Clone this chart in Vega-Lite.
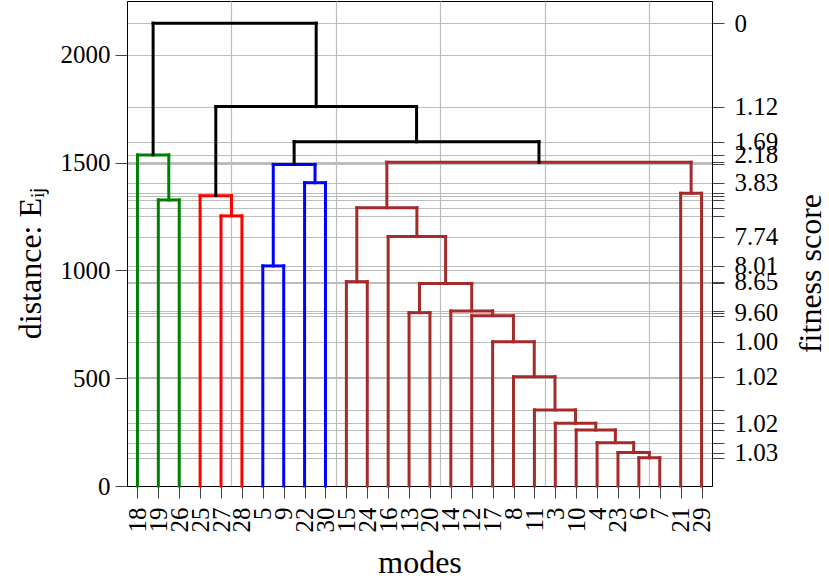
{
  "$schema": "https://vega.github.io/schema/vega-lite/v6.json",
  "width": 585,
  "height": 485,
  "autosize": {"type": "none"},
  "padding": {"left": 127, "top": 1, "right": 117, "bottom": 95},
  "config": {
    "view": {"stroke": "black", "strokeWidth": 1},
    "font": "Liberation Serif",
    "axis": {
      "labelFont": "Liberation Serif",
      "titleFont": "Liberation Serif",
      "labelFontSize": 25,
      "titleFontSize": 32,
      "titleFontWeight": "normal",
      "labelColor": "black",
      "titleColor": "black",
      "domainColor": "black",
      "tickColor": "#444444",
      "gridColor": "#bdbdbd",
      "gridWidth": 1.2,
      "gridOpacity": 1,
      "labelOverlap": false,
      "labelFlush": false,
      "tickSize": 12
    }
  },
  "data": {
    "values": [
      {"xl": 2, "yl": 0, "xr": 3, "yr": 0, "h": 1327, "c": "g"},
      {"xl": 1, "yl": 0, "xr": 2.5, "yr": 1327, "h": 1536, "c": "g"},
      {"xl": 5, "yl": 0, "xr": 6, "yr": 0, "h": 1253, "c": "r"},
      {"xl": 4, "yl": 0, "xr": 5.5, "yr": 1253, "h": 1347, "c": "r"},
      {"xl": 7, "yl": 0, "xr": 8, "yr": 0, "h": 1021, "c": "b"},
      {"xl": 9, "yl": 0, "xr": 10, "yr": 0, "h": 1407, "c": "b"},
      {"xl": 7.5, "yl": 1021, "xr": 9.5, "yr": 1407, "h": 1492, "c": "b"},
      {"xl": 25, "yl": 0, "xr": 26, "yr": 0, "h": 131, "c": "br"},
      {"xl": 24, "yl": 0, "xr": 25.5, "yr": 131, "h": 155, "c": "br"},
      {"xl": 23, "yl": 0, "xr": 24.75, "yr": 155, "h": 201, "c": "br"},
      {"xl": 22, "yl": 0, "xr": 23.875, "yr": 201, "h": 260, "c": "br"},
      {"xl": 21, "yl": 0, "xr": 22.9375, "yr": 260, "h": 291, "c": "br"},
      {"xl": 20, "yl": 0, "xr": 21.96875, "yr": 291, "h": 353, "c": "br"},
      {"xl": 19, "yl": 0, "xr": 20.984375, "yr": 353, "h": 507, "c": "br"},
      {"xl": 18, "yl": 0, "xr": 19.9921875, "yr": 507, "h": 669, "c": "br"},
      {"xl": 17, "yl": 0, "xr": 18.99609375, "yr": 669, "h": 790, "c": "br"},
      {"xl": 16, "yl": 0, "xr": 17.998046875, "yr": 790, "h": 812, "c": "br"},
      {"xl": 14, "yl": 0, "xr": 15, "yr": 0, "h": 804, "c": "br"},
      {"xl": 14.5, "yl": 804, "xr": 16.9990234, "yr": 812, "h": 940, "c": "br"},
      {"xl": 13, "yl": 0, "xr": 15.7495117, "yr": 940, "h": 1157, "c": "br"},
      {"xl": 11, "yl": 0, "xr": 12, "yr": 0, "h": 948, "c": "br"},
      {"xl": 11.5, "yl": 948, "xr": 14.3747559, "yr": 1157, "h": 1291, "c": "br"},
      {"xl": 27, "yl": 0, "xr": 28, "yr": 0, "h": 1358, "c": "br"},
      {"xl": 12.937378, "yl": 1291, "xr": 27.5, "yr": 1358, "h": 1502, "c": "br"},
      {"xl": 8.5, "yl": 1492, "xr": 20.218689, "yr": 1502, "h": 1597, "c": "k"},
      {"xl": 4.75, "yl": 1347, "xr": 14.3593445, "yr": 1597, "h": 1760, "c": "k"},
      {"xl": 1.75, "yl": 1536, "xr": 9.5546722, "yr": 1760, "h": 2147, "c": "k"}
    ]
  },
  "layer": [
    {
      "mark": {"type": "rule", "strokeWidth": 3, "strokeCap": "square"},
      "encoding": {
        "x": {
          "field": "xl", "type": "quantitative",
          "scale": {"domain": [0.5, 28.5], "nice": false, "zero": false},
          "axis": {
            "orient": "bottom",
            "values": [1,2,3,4,5,6,7,8,9,10,11,12,13,14,15,16,17,18,19,20,21,22,23,24,25,26,27,28],
            "labelExpr": "['18','19','26','25','27','28','5','9','22','30','15','24','16','13','20','14','12','17','8','11','3','10','4','23','6','7','21','29'][datum.value - 1]",
            "labelAngle": -90,
            "labelPadding": 9,
            "grid": false,
            "title": "modes",
            "titleBaseline": "alphabetic",
            "titleY": 86
          }
        },
        "x2": {"field": "xr"},
        "y": {
          "field": "h", "type": "quantitative",
          "scale": {"domain": [0, 2250], "nice": false},
          "axis": {
            "orient": "left",
            "values": [0, 500, 1000, 1500, 2000],
            "format": "d",
            "grid": true,
            "labelPadding": 5,
            "title": "distance: Eᵢⱼ",
            "titleAngle": 270,
            "titleBaseline": "middle",
            "titleAlign": "center",
            "titleX": -97,
            "titleY": 262
          }
        },
        "color": {
          "field": "c", "type": "nominal",
          "scale": {"domain": ["g", "r", "b", "br", "k"], "range": ["#008000", "#ff0000", "#0000ff", "#a52a2a", "#000000"]},
          "legend": null
        }
      }
    },
    {
      "mark": {"type": "rule", "strokeWidth": 3, "strokeCap": "square"},
      "encoding": {
        "x": {
          "field": "xl", "type": "quantitative",
          "axis": {
            "orient": "top",
            "values": [5.5, 10.5, 15.5, 20.5, 25.5],
            "grid": true,
            "labels": false,
            "ticks": false,
            "domain": false,
            "title": null
          }
        },
        "y": {
          "field": "yl", "type": "quantitative",
          "axis": {
            "orient": "right",
            "values": [2147,1760,1597,1536,1502,1492,1407,1358,1347,1327,1291,1253,1157,1021,948,940,812,804,790,669,507,353,291,260,201,155,131],
            "labelExpr": "['0','1.12','1.69','2.18','','','3.83','','','','','','7.74','8.01','8.65','','','9.60','','1.00','1.02','','1.02','','','1.03',''][indexof([2147,1760,1597,1536,1502,1492,1407,1358,1347,1327,1291,1253,1157,1021,948,940,812,804,790,669,507,353,291,260,201,155,131], datum.value)]",
            "grid": true,
            "labelPadding": 10,
            "title": "fitness score",
            "titleAngle": 270,
            "titleBaseline": "middle",
            "titleAlign": "center",
            "titleX": 98,
            "titleY": 272
          }
        },
        "y2": {"field": "h"},
        "color": {"field": "c", "type": "nominal", "legend": null}
      }
    },
    {
      "mark": {"type": "rule", "strokeWidth": 3, "strokeCap": "square"},
      "encoding": {
        "x": {"field": "xr", "type": "quantitative", "axis": null},
        "y": {"field": "yr", "type": "quantitative", "axis": null},
        "y2": {"field": "h"},
        "color": {"field": "c", "type": "nominal", "legend": null}
      }
    }
  ],
  "resolve": {"axis": {"x": "independent", "y": "independent"}}
}
